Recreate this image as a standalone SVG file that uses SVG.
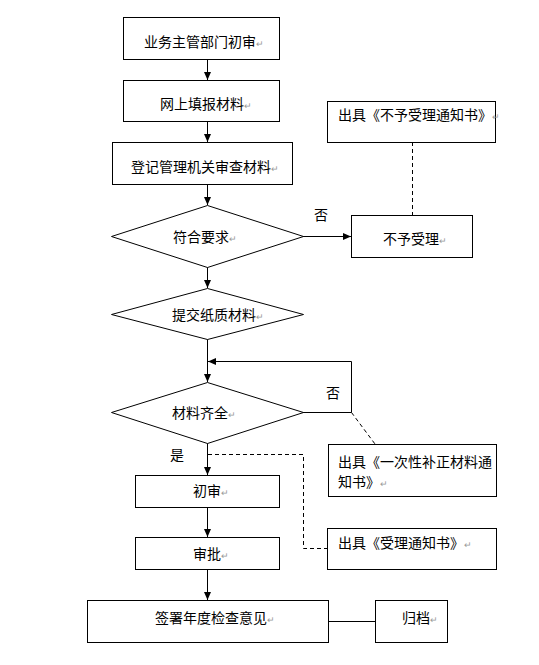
<svg xmlns="http://www.w3.org/2000/svg" width="539" height="665" viewBox="0 0 539 665">
<style>
.box{fill:#fff;stroke:#000;stroke-width:1}
.t{font-family:"Noto Sans CJK SC","Liberation Sans",sans-serif;font-size:14px;fill:#000}
.pm{font-size:9px;fill:#999}
.ln{fill:none;stroke:#000;stroke-width:1}
.dash{fill:none;stroke:#000;stroke-width:1;stroke-dasharray:4 3}
</style>
<defs>
<marker id="arr" markerWidth="8" markerHeight="8" refX="8" refY="4" orient="auto" markerUnits="userSpaceOnUse">
<path d="M0,0.5 L8,4 L0,7.5 Z" fill="#000"/>
</marker>
</defs>
<rect width="539" height="665" fill="#fff"/>
<g id="connectors">
<line class="ln" x1="207.5" y1="59" x2="207.5" y2="80" marker-end="url(#arr)"/>
<line class="ln" x1="207.5" y1="121" x2="207.5" y2="142" marker-end="url(#arr)"/>
<line class="ln" x1="207.5" y1="184" x2="207.5" y2="205" marker-end="url(#arr)"/>
<line class="ln" x1="303" y1="236.5" x2="351" y2="236.5" marker-end="url(#arr)"/>
<line class="dash" x1="412.5" y1="142" x2="412.5" y2="215"/>
<line class="ln" x1="207.5" y1="267" x2="207.5" y2="288" marker-end="url(#arr)"/>
<line class="ln" x1="207.5" y1="339" x2="207.5" y2="382" marker-end="url(#arr)"/>
<polyline class="ln" points="303,412.5 351.5,412.5 351.5,361.5 208,361.5" marker-end="url(#arr)"/>
<line class="dash" x1="351.5" y1="412.5" x2="375" y2="444"/>
<line class="ln" x1="207.5" y1="443" x2="207.5" y2="475" marker-end="url(#arr)"/>
<polyline class="dash" points="208,454.5 303.5,454.5 303.5,548.5 327,548.5"/>
<line class="ln" x1="207.5" y1="507" x2="207.5" y2="537" marker-end="url(#arr)"/>
<line class="ln" x1="207.5" y1="569" x2="207.5" y2="600" marker-end="url(#arr)"/>
<line class="ln" x1="328" y1="621.5" x2="375" y2="621.5"/>
</g>
<g id="n1"><rect class="box" x="123.5" y="17.5" width="156" height="42"/><text class="t" x="144" y="47">业务主管部门初审<tspan class="pm">↵</tspan></text></g>
<g id="n2"><rect class="box" x="123.5" y="80.5" width="156" height="41"/><text class="t" x="160" y="109">网上填报材料<tspan class="pm">↵</tspan></text></g>
<g id="n3"><rect class="box" x="112.5" y="142.5" width="180" height="42"/><text class="t" x="131" y="172">登记管理机关审查材料<tspan class="pm">↵</tspan></text></g>
<g id="n4"><polygon class="box" points="207.5,205.5 303.5,236.5 207.5,267.5 111.5,236.5"/><text class="t" x="173" y="242">符合要求<tspan class="pm">↵</tspan></text></g>
<g id="n5"><rect class="box" x="327.5" y="101.5" width="168" height="41"/><text class="t" x="338" y="120">出具《不予受理通知书》<tspan class="pm">↵</tspan></text></g>
<g id="n6"><rect class="box" x="351.5" y="215.5" width="121" height="42"/><text class="t" x="383" y="244">不予受理<tspan class="pm">↵</tspan></text></g>
<g id="l1"><text class="t" x="314" y="220">否</text></g>
<g id="n7"><polygon class="box" points="207.5,288.5 303.5,314.5 207.5,339.5 111.5,314.5"/><text class="t" x="172" y="320">提交纸质材料<tspan class="pm">↵</tspan></text></g>
<g id="n8"><polygon class="box" points="207.5,382.5 303.5,412.5 207.5,443.5 111.5,412.5"/><text class="t" x="172" y="418">材料齐全<tspan class="pm">↵</tspan></text></g>
<g id="l2"><text class="t" x="326" y="398">否</text></g>
<g id="l3"><text class="t" x="170" y="460">是</text></g>
<g id="n9"><rect class="box" x="328.5" y="444.5" width="168" height="52"/><text class="t" x="338" y="467">出具《一次性补正材料通</text><text class="t" x="338" y="487">知书》<tspan class="pm">↵</tspan></text></g>
<g id="n10"><rect class="box" x="135.5" y="475.5" width="144" height="32"/><text class="t" x="193" y="496">初审<tspan class="pm">↵</tspan></text></g>
<g id="n11"><rect class="box" x="327.5" y="528.5" width="169" height="41"/><text class="t" x="338" y="548">出具《受理通知书》<tspan class="pm">↵</tspan></text></g>
<g id="n12"><rect class="box" x="135.5" y="537.5" width="144" height="32"/><text class="t" x="193" y="559">审批<tspan class="pm">↵</tspan></text></g>
<g id="n13"><rect class="box" x="87.5" y="600.5" width="241" height="42"/><text class="t" x="155" y="623">签署年度检查意见<tspan class="pm">↵</tspan></text></g>
<g id="n14"><rect class="box" x="375.5" y="600.5" width="72" height="42"/><text class="t" x="402" y="623">归档<tspan class="pm">↵</tspan></text></g>
</svg>
